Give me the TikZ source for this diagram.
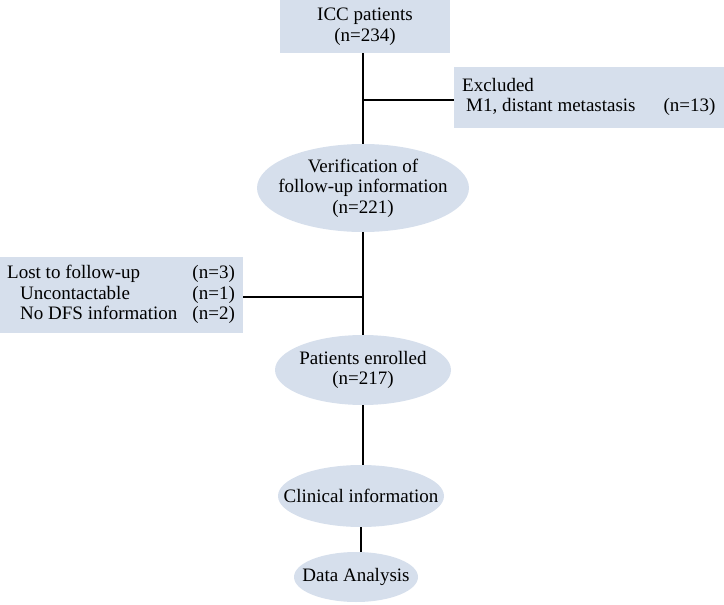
\documentclass[tikz,border=0pt]{standalone}
\usepackage{fontspec}
\setmainfont{Liberation Serif}
\usetikzlibrary{shapes.geometric}
\definecolor{boxfill}{RGB}{214,223,236}
\begin{document}
\begin{tikzpicture}[x=1pt,y=-1pt,
  every node/.style={font=\fontsize{19}{20.5}\selectfont, text=black},
  box/.style={fill=boxfill, inner sep=0pt},
  oval/.style={ellipse, fill=boxfill, inner sep=0pt},
  lbl/.style={inner sep=0pt, align=center},
  link/.style={line width=1.4pt}]
\useasboundingbox (0,0) rectangle (724,605);
\node[box, minimum width=170pt, minimum height=53pt, align=center] (icc) at (365,26.5) {ICC patients\\(n=234)};
\node[oval, minimum width=212pt, minimum height=88pt] (ver) at (363,188) {};
\node[lbl] (vert) at (ver.center) {Verification of\\follow-up information\\(n=221)};
\node[oval, minimum width=176pt, minimum height=70pt] (enr) at (363,370) {};
\node[lbl] (enrt) at (enr.center) {Patients enrolled\\(n=217)};
\node[oval, minimum width=166pt, minimum height=62pt] (cli) at (361,496) {};
\node[lbl] (clit) at (cli.center) {Clinical information};
\node[oval, minimum width=124pt, minimum height=50pt] (dat) at (356,577) {};
\node[lbl] (datt) at (dat.center) {Data Analysis};
\node[box, minimum width=270pt, minimum height=61pt, anchor=north west] (exc) at (454,67) {};
\node[anchor=west, inner sep=0pt, align=left] (exct) at ([xshift=8pt]exc.west)
  {\renewcommand{\arraystretch}{0.95}\begin{tabular}{@{}l@{\hspace{28pt}}l@{}}Excluded & \\ \hspace{4pt}M1, distant metastasis & (n=13)\end{tabular}};
\node[box, minimum width=243pt, minimum height=76pt, anchor=north west] (lost) at (0,257) {};
\node[anchor=west, inner sep=0pt, align=left] (lostt) at ([xshift=7pt]lost.west)
  {\renewcommand{\arraystretch}{1.0}\begin{tabular}{@{}l@{\hspace{15pt}}l@{}}Lost to follow-up & (n=3)\\ \hspace{13pt}Uncontactable & (n=1)\\ \hspace{13pt}No DFS information & (n=2)\end{tabular}};
\coordinate (j1) at (363,100);
\coordinate (j2) at (363,297);
\draw[link] (ver.north |- icc.south) -- (ver.north);
\draw[link] (j1) -- (j1 -| exc.west);
\draw[link] (ver.south) -- (enr.north);
\draw[link] (j2) -- (j2 -| lost.east);
\draw[link] (enr.south) -- (cli.north -| enr.south);
\draw[link] (cli.south) -- (dat.north -| cli.south);
\end{tikzpicture}
\end{document}
